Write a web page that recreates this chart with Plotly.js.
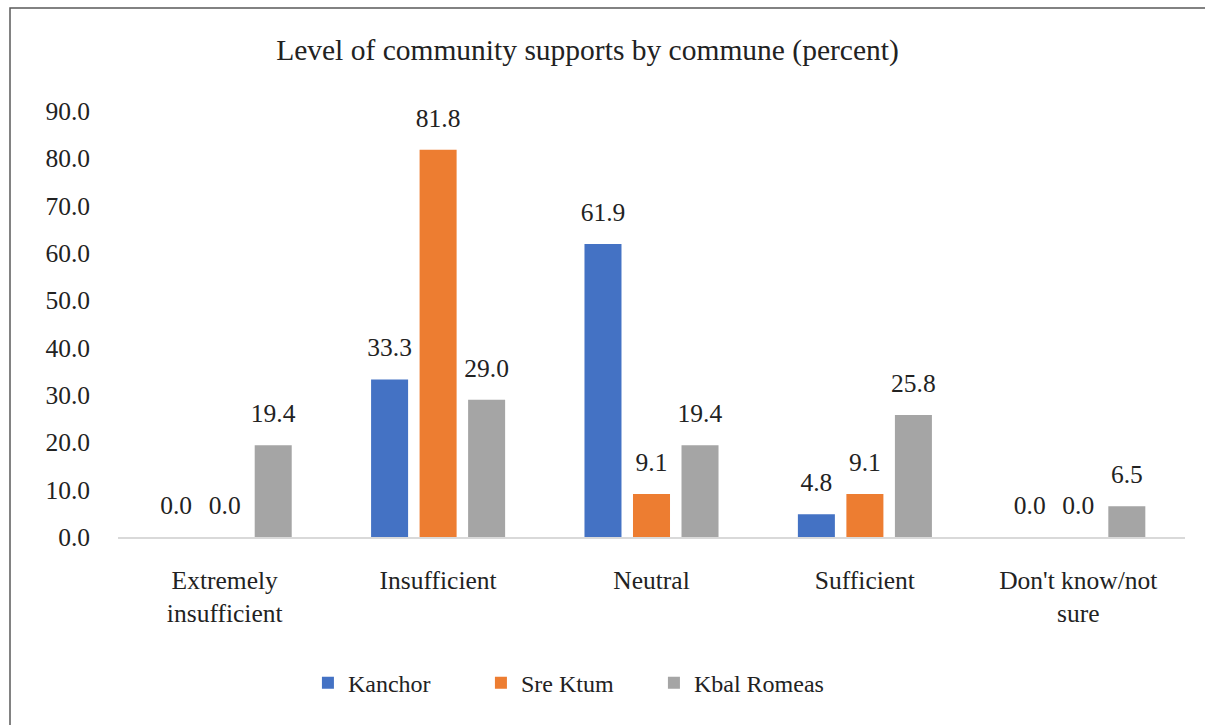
<!DOCTYPE html>
<html><head><meta charset="utf-8">
<script src="https://cdn.plot.ly/plotly-3.0.1.min.js"></script>
<style>html,body{margin:0;padding:0;background:#fff}#chart{width:1205px;height:725px}</style>
</head><body><div id="chart"></div>
<script>
const categories = ["Extremely<br>insufficient", "Insufficient", "Neutral", "Sufficient", "Don't know/not<br>sure"];
const seriesNames = ["Kanchor", "Sre Ktum", "Kbal Romeas"];
const kanchor = [0.0, 33.3, 61.9, 4.8, 0.0];
const sreKtum = [0.0, 81.8, 9.1, 9.1, 0.0];
const kbalRomeas = [19.4, 29.0, 19.4, 25.8, 6.5];
const colors = ["#4472C4", "#ED7D31", "#A5A5A5"];
const yTicks = [0, 10, 20, 30, 40, 50, 60, 70, 80, 90];

const FONT = "Liberation Serif";
const values = [kanchor, sreKtum, kbalRomeas];
const traces = values.map((v, i) => ({
  type: "bar",
  name: seriesNames[i],
  x: categories,
  y: v,
  marker: {color: colors[i]},
  texttemplate: "<span style='font-size:25.5px'>%{y:.1f}</span><br><span style='color:rgba(0,0,0,0)'>.</span>",
  textposition: "outside",
  constraintext: "none",
  cliponaxis: false,
  textfont: {family: FONT, size: 13, color: "#222"},
  hoverinfo: "x+y+name"
}));

const layout = {
  width: 1205, height: 725,
  margin: {l: 118, r: 20, t: 111, b: 188},
  paper_bgcolor: "#fff", plot_bgcolor: "#fff",
  font: {family: FONT, size: 25.5, color: "#222"},
  title: {text: "Level of community supports by commune (percent)", font: {family: FONT, size: 29.5, color: "#222"},
          xref: "paper", x: 0.44, xanchor: "center", yref: "container", y: 0.931, yanchor: "middle"},
  barmode: "group",
  bargap: 0.318,
  bargroupgap: 0.237,
  showlegend: true,
  legend: {orientation: "h", x: 0.178, xanchor: "left", y: -0.343, yanchor: "middle",
           font: {family: FONT, size: 24, color: "#222"}, itemwidth: 30, entrywidth: 128, traceorder: "normal"},
  xaxis: {type: "category", showgrid: false, showline: true, linecolor: "#D9D9D9", linewidth: 1.5,
          ticks: "", ticklabelstandoff: 20, tickfont: {family: FONT, size: 25.5, color: "#222"}, zeroline: false},
  yaxis: {range: [0, 90], tickvals: yTicks, tickformat: ".1f", showgrid: false, showline: false, zeroline: false,
          ticks: "", ticklabelstandoff: 27, tickfont: {family: FONT, size: 25.5, color: "#222"}},
  shapes: [{type: "rect", xref: "paper", yref: "paper", x0: (10 - 118) / 1067, x1: 1.2, y0: -0.6, y1: (537 - 8) / 426,
            line: {color: "#595959", width: 1.5}, fillcolor: "rgba(0,0,0,0)", layer: "below"}]
};

Plotly.newPlot("chart", traces, layout, {displayModeBar: false, staticPlot: true});
</script></body></html>
